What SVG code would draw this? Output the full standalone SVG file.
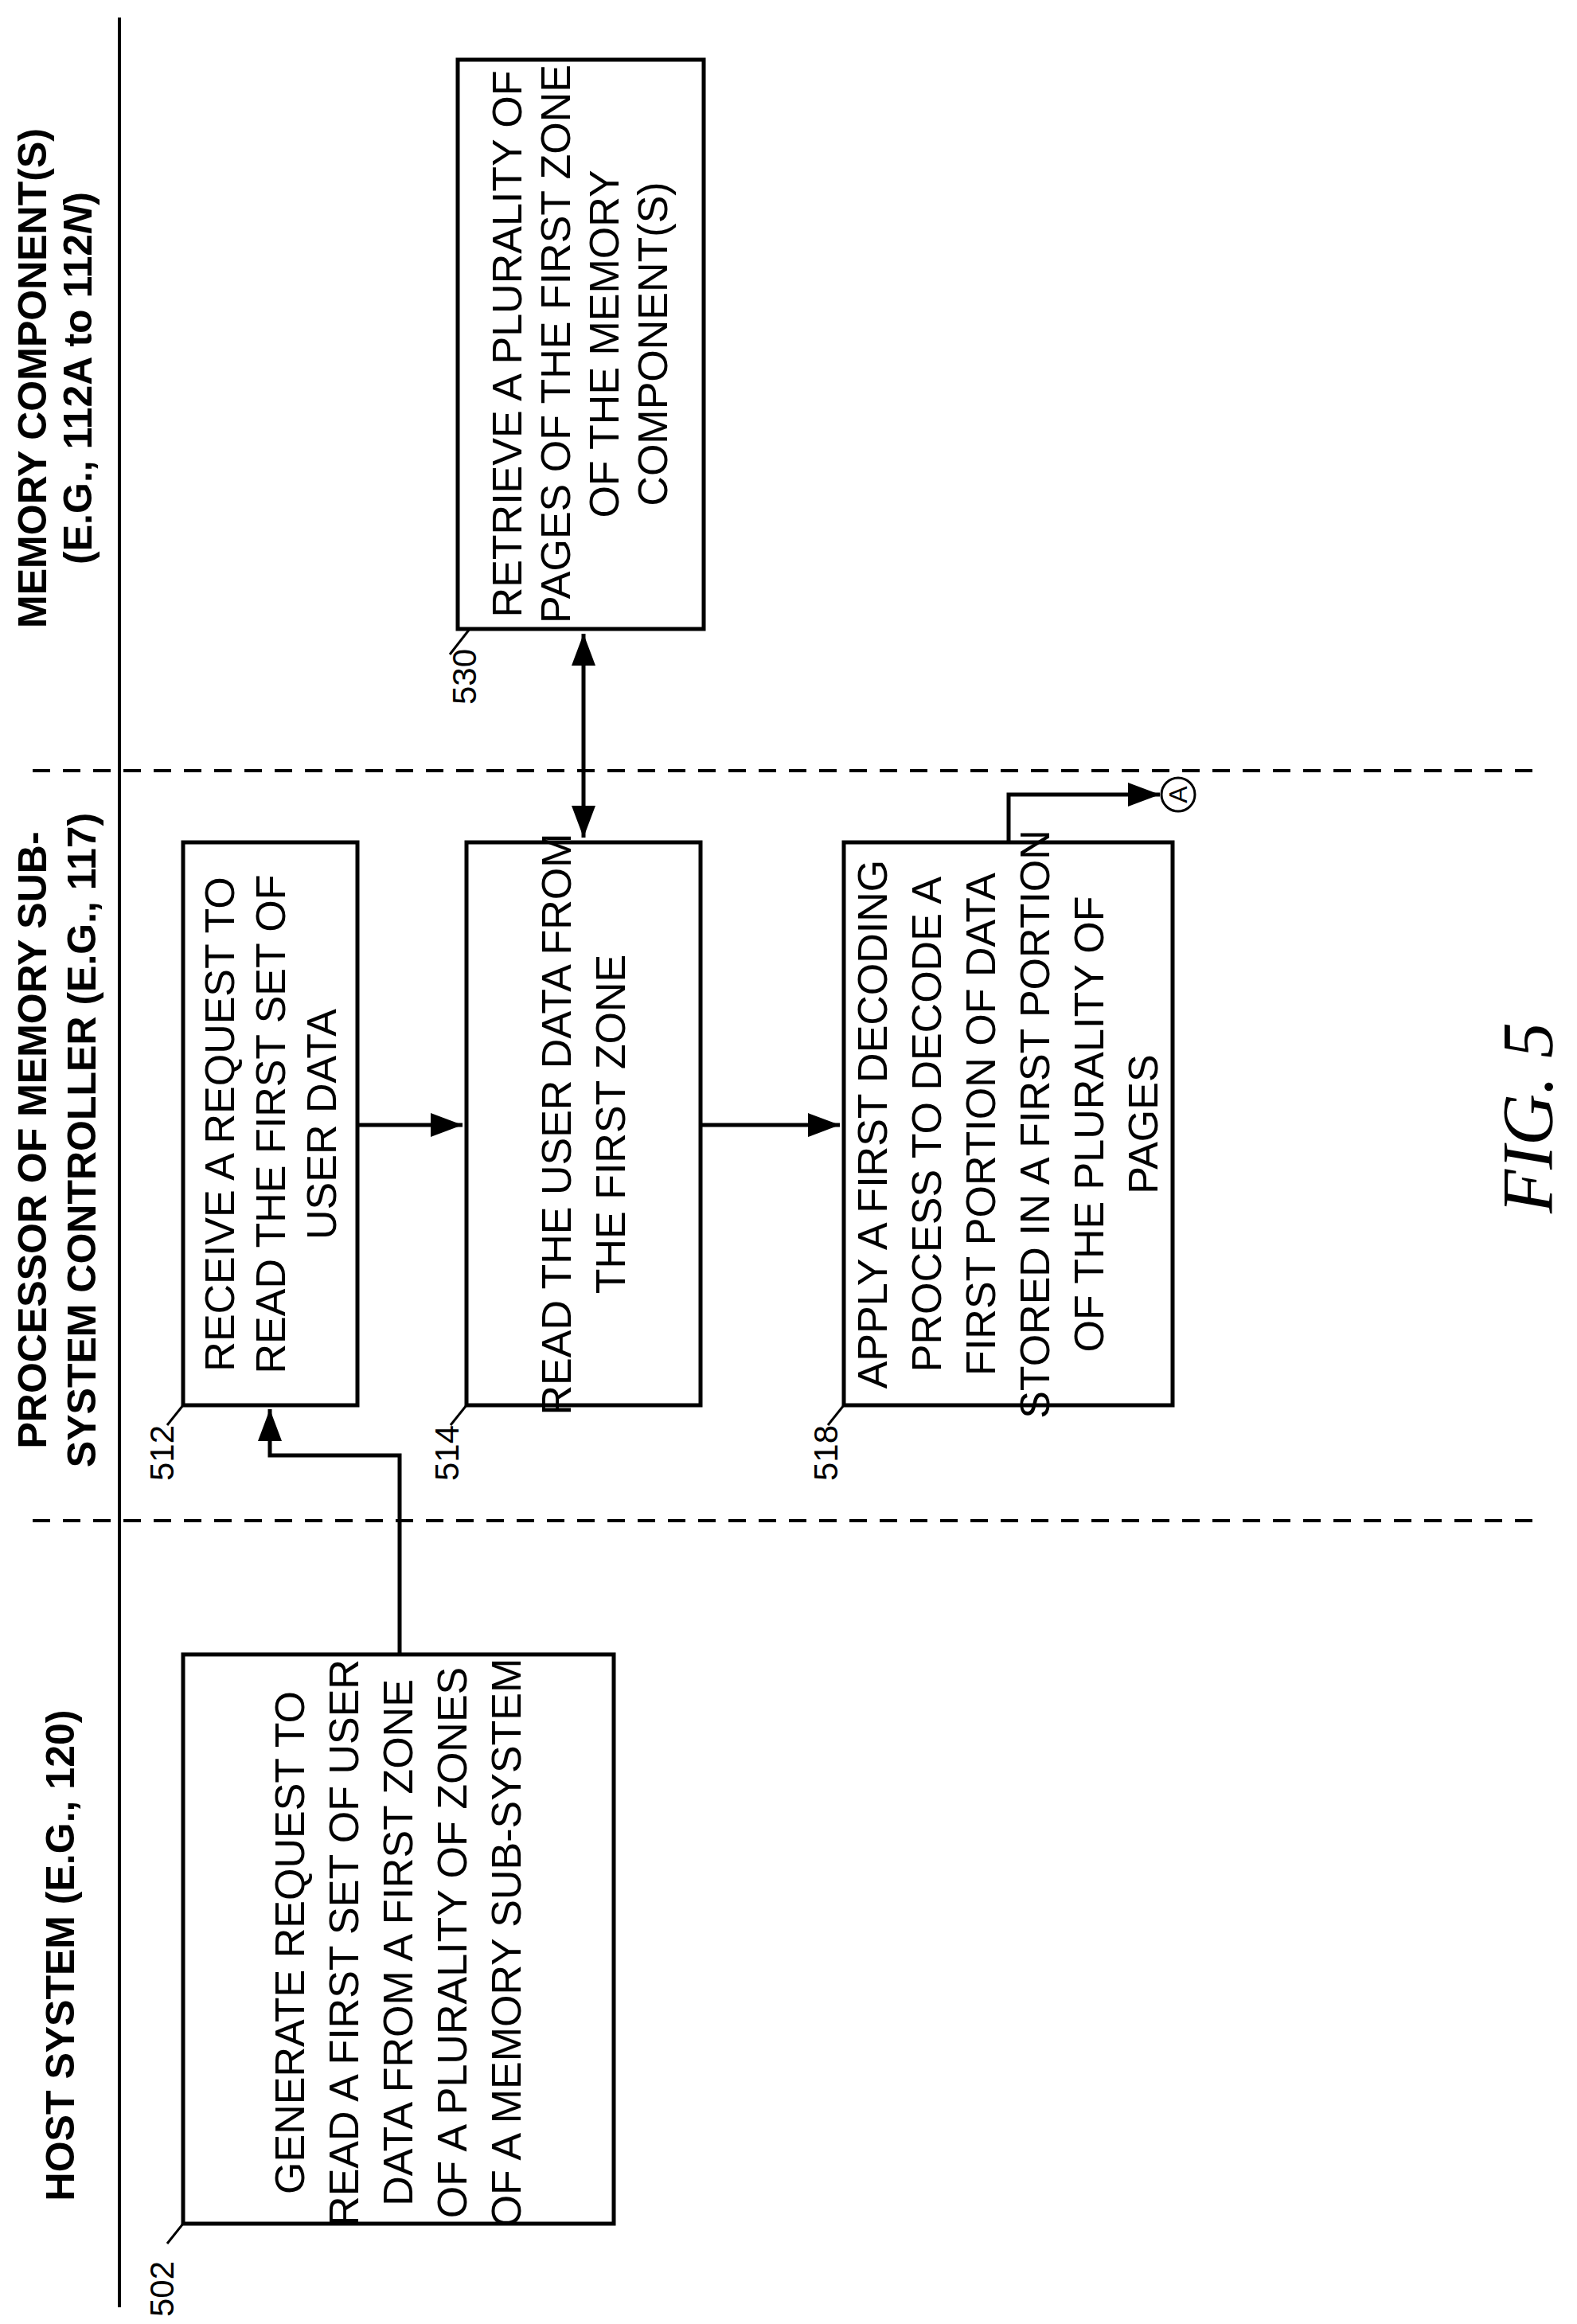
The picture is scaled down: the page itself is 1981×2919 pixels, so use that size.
<svg xmlns="http://www.w3.org/2000/svg" width="1981" height="2919" viewBox="0 0 1981 2919">
<style>
.b{fill:#fff;stroke:#000;stroke-width:5}
.t{font-family:"Liberation Sans",Arial,sans-serif;font-size:52px;text-anchor:middle}
.h{font-family:"Liberation Sans",Arial,sans-serif;font-size:50px;font-weight:bold;text-anchor:middle}
.r{font-family:"Liberation Sans",Arial,sans-serif;font-size:42px;text-anchor:middle}
.c{fill:none;stroke:#000;stroke-width:5}
.d{fill:none;stroke:#000;stroke-width:4;stroke-dasharray:22 16}
.l{fill:none;stroke:#000;stroke-width:3}
</style>
<defs>
<marker id="a" markerWidth="8" markerHeight="6" refX="8" refY="3" orient="auto" markerUnits="strokeWidth"><path d="M0,0 L8,3 L0,6 z" fill="#000"/></marker>
<marker id="s" markerWidth="8" markerHeight="6" refX="0" refY="3" orient="auto" markerUnits="strokeWidth"><path d="M8,0 L0,3 L8,6 z" fill="#000"/></marker>
</defs>
<g id="lanes">
<line x1="150" y1="22" x2="150" y2="2898" stroke="#000" stroke-width="4"/>
<line class="d" x1="41" y1="968" x2="1928" y2="968"/>
<line class="d" x1="41" y1="1910" x2="1928" y2="1910"/>
<g transform="translate(0,2456) rotate(-90)"><text class="h" x="0" y="93">HOST SYSTEM (E.G., 120)</text></g>
<g transform="translate(0,1432) rotate(-90)"><text class="h" x="0" y="58">PROCESSOR OF MEMORY SUB-</text><text class="h" x="0" y="120">SYSTEM CONTROLLER (E.G., 117)</text></g>
<g transform="translate(0,475) rotate(-90)"><text class="h" x="0" y="58">MEMORY COMPONENT(S)</text><text class="h" x="0" y="115">(E.G., 112A to 112<tspan font-style="italic">N</tspan>)</text></g>
<g transform="translate(1950,1404) rotate(-90)"><text x="0" y="0" font-family="Liberation Serif,serif" font-style="italic" font-size="90" text-anchor="middle">FIG. 5</text></g>
</g>
<g id="n530">
<rect class="b" x="575" y="75" width="309" height="715"/>
<g transform="translate(730,432) rotate(-90)" class="t"><text x="0" y="-75">RETRIEVE A PLURALITY OF</text><text x="0" y="-14">PAGES OF THE FIRST ZONE</text><text x="0" y="47">OF THE MEMORY</text><text x="0" y="108">COMPONENT(S)</text></g>
<path class="l" d="M590,790 L565,822"/>
<g transform="translate(598,850) rotate(-90)"><text class="r" x="0" y="0">530</text></g>
</g>
<g id="n512">
<rect class="b" x="230" y="1058" width="219" height="707"/>
<g transform="translate(340,1412) rotate(-90)" class="t"><text x="0" y="-46">RECEIVE A REQUEST TO</text><text x="0" y="18">READ THE FIRST SET OF</text><text x="0" y="82">USER DATA</text></g>
<path class="l" d="M230,1765 L210,1790"/>
<g transform="translate(218,1825) rotate(-90)"><text class="r" x="0" y="0">512</text></g>
</g>
<g id="n514">
<rect class="b" x="586" y="1058" width="294" height="707"/>
<g transform="translate(733,1412) rotate(-90)" class="t"><text x="0" y="-16">READ THE USER DATA FROM</text><text x="0" y="52">THE FIRST ZONE</text></g>
<path class="l" d="M586,1765 L566,1790"/>
<g transform="translate(576,1825) rotate(-90)"><text class="r" x="0" y="0">514</text></g>
</g>
<g id="n518">
<rect class="b" x="1060" y="1058" width="413" height="707"/>
<g transform="translate(1266,1412) rotate(-90)" class="t"><text x="0" y="-152">APPLY A FIRST DECODING</text><text x="0" y="-84">PROCESS TO DECODE A</text><text x="0" y="-16">FIRST PORTION OF DATA</text><text x="0" y="52">STORED IN A FIRST PORTION</text><text x="0" y="120">OF THE PLURALITY OF</text><text x="0" y="188">PAGES</text></g>
<path class="l" d="M1060,1765 L1040,1790"/>
<g transform="translate(1052,1825) rotate(-90)"><text class="r" x="0" y="0">518</text></g>
</g>
<g id="n502">
<rect class="b" x="230" y="2078" width="541" height="715"/>
<g transform="translate(500,2440) rotate(-90)" class="t"><text x="0" y="-118">GENERATE REQUEST TO</text><text x="0" y="-50">READ A FIRST SET OF USER</text><text x="0" y="18">DATA FROM A FIRST ZONE</text><text x="0" y="86">OF A PLURALITY OF ZONES</text><text x="0" y="154">OF A MEMORY SUB-SYSTEM</text></g>
<path class="l" d="M230,2793 L210,2818"/>
<g transform="translate(218,2875) rotate(-90)"><text class="r" x="0" y="0">502</text></g>
</g>
<g id="nA">
<circle cx="1480" cy="998" r="21" fill="#fff" stroke="#000" stroke-width="3"/>
<g transform="translate(1480,998) rotate(-90)"><text x="0" y="11" font-family="Liberation Sans,sans-serif" font-size="32" text-anchor="middle">A</text></g>
</g>
<g id="connectors">
<path class="c" d="M502,2078 L502,1828 L339,1828 L339,1770" marker-end="url(#a)"/>
<path class="c" d="M449,1413 L581,1413" marker-end="url(#a)"/>
<path class="c" d="M880,1413 L1055,1413" marker-end="url(#a)"/>
<path class="c" d="M733,796 L733,1052" marker-start="url(#s)" marker-end="url(#a)"/>
<path class="c" d="M1267,1058 L1267,998 L1457,998" marker-end="url(#a)"/>
</g>
</svg>
